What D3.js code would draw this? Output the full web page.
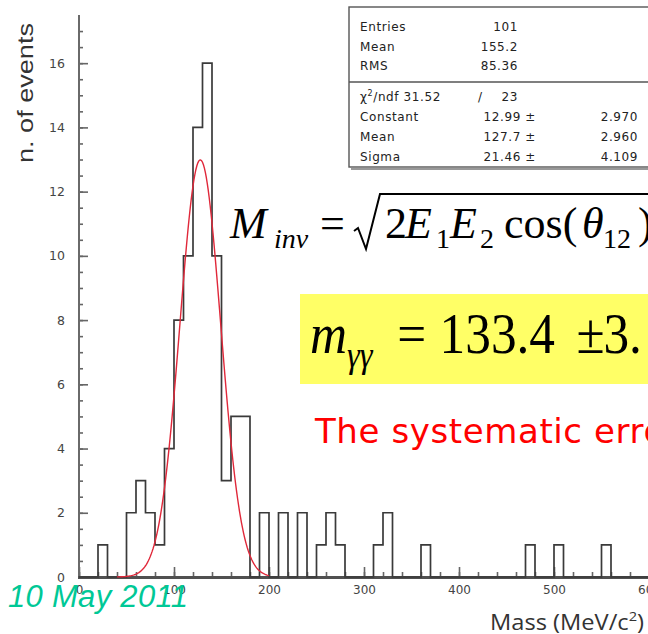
<!DOCTYPE html>
<html>
<head>
<meta charset="utf-8">
<script src="https://cdn.jsdelivr.net/npm/d3@7"></script>
<style>
  html, body { margin: 0; padding: 0; background: #fff; overflow: hidden; }
  svg { display: block; }
</style>
</head>
<body>
<svg id="chart" width="648" height="634"></svg>
<script>
// Invariant-mass histogram: 10 MeV bins from 0 to 600 MeV/c^2
const binStart = 0;
const binWidth = 10;
const counts = [
  0, 0, 1, 0, 0, 2, 3, 2, 1, 4,
  8, 10, 14, 16, 10, 3, 5, 5, 0, 2,
  0, 2, 0, 2, 0, 1, 2, 1, 0, 0,
  0, 1, 2, 0, 0, 0, 1, 0, 0, 0,
  0, 0, 0, 0, 0, 0, 0, 1, 0, 0,
  1, 0, 0, 0, 0, 1, 0, 0, 0, 0
];

// Gaussian fit parameters
const fitConstant = 12.99;
const fitMean = 127.7;
const fitSigma = 21.46;
const fitRange = [40, 200];

// Axis ticks
const xMajorTicks = [0, 100, 200, 300, 400, 500, 600];
const xMinorTicks = d3.range(0, 601, 20);
const yMajorTicks = [0, 2, 4, 6, 8, 10, 12, 14, 16];
const yMinorTicks = d3.range(0, 17.5, 0.5);

// Statistics box rows
const statsTop = [["Entries", "101"], ["Mean", "155.2"], ["RMS", "85.36"]];
const statsFit = [["Constant", "12.99 \u00b1", "2.970"], ["Mean", "127.7 \u00b1", "2.960"], ["Sigma", "21.46 \u00b1", "4.109"]];
const chi2 = "31.52", ndf = "23";

const svg = d3.select("#chart");

const x = d3.scaleLinear().domain([0, 600]).range([79, 649]);
const y = d3.scaleLinear().domain([0, 17.5]).range([577, 15]);

// ---- axes ----
const tickColor = "#666";
const yMinor = svg.append("g").attr("transform", `translate(${x(0)},0)`)
  .call(d3.axisLeft(y).tickValues(yMinorTicks).tickSize(-4).tickFormat(""));
const yMajor = svg.append("g").attr("transform", `translate(${x(0)},0)`)
  .call(d3.axisLeft(y).tickValues(yMajorTicks).tickSizeInner(-9).tickSizeOuter(0).tickPadding(14));
const xMinor = svg.append("g").attr("transform", `translate(0,${y(0)})`)
  .call(d3.axisBottom(x).tickValues(xMinorTicks).tickSize(-5).tickFormat(""));
const xMajor = svg.append("g").attr("transform", `translate(0,${y(0)})`)
  .call(d3.axisBottom(x).tickValues(xMajorTicks).tickSizeInner(-10).tickSizeOuter(0).tickPadding(8));

[yMinor, yMajor, xMinor, xMajor].forEach(g => {
  g.select(".domain").remove();
  g.selectAll(".tick line").attr("stroke", tickColor).attr("stroke-width", 1.6);
  g.selectAll(".tick text")
    .attr("font-family", "DejaVu Sans, sans-serif")
    .attr("fill", "#444");
});
yMajor.selectAll(".tick text").attr("font-size", 12.5);
xMajor.selectAll(".tick text").attr("font-size", 12);

// axis lines
svg.append("line")
  .attr("x1", x(0)).attr("x2", x(0)).attr("y1", y(17.5)).attr("y2", y(0))
  .attr("stroke", "#6a6a6a").attr("stroke-width", 2);
svg.append("line")
  .attr("x1", x(0) - 1).attr("x2", x(600)).attr("y1", y(0) + 0.5).attr("y2", y(0) + 0.5)
  .attr("stroke", "#505050").attr("stroke-width", 3);

// ---- histogram outline ----
const steps = counts.map((c, i) => [binStart + i * binWidth, c]);
steps.push([binStart + counts.length * binWidth, counts[counts.length - 1]]);
const histLine = d3.line()
  .x(d => x(d[0])).y(d => y(d[1]))
  .curve(d3.curveStepAfter);
svg.append("path")
  .attr("d", histLine(steps))
  .attr("fill", "none")
  .attr("stroke", "#3a3a3a")
  .attr("stroke-width", 1.7);

// ---- gaussian fit ----
const gauss = m => fitConstant * Math.exp(-0.5 * Math.pow((m - fitMean) / fitSigma, 2));
const fitPts = d3.range(fitRange[0], fitRange[1] + 0.01, 1).map(m => [m, gauss(m)]);
svg.append("path")
  .attr("d", d3.line().x(d => x(d[0])).y(d => y(d[1])).curve(d3.curveLinear)(fitPts))
  .attr("fill", "none")
  .attr("stroke", "#e0283a")
  .attr("stroke-width", 1.4);

// ---- statistics box ----
const box = svg.append("g");
box.append("line").attr("x1", 351).attr("x2", 660).attr("y1", 169).attr("y2", 169)
  .attr("stroke", "#777").attr("stroke-width", 1.5);
box.append("rect").attr("x", 349).attr("y", 7).attr("width", 320).attr("height", 160)
  .attr("fill", "#fff").attr("stroke", "#555").attr("stroke-width", 1.4);
box.append("line").attr("x1", 349).attr("x2", 660).attr("y1", 82).attr("y2", 82)
  .attr("stroke", "#555").attr("stroke-width", 1.4);

const statFont = t => t.attr("font-family", "DejaVu Sans, sans-serif")
  .attr("font-size", 12).attr("letter-spacing", 0.6).attr("fill", "#222");

statsTop.forEach((r, i) => {
  const yy = 31 + i * 19.5;
  box.append("text").attr("x", 360).attr("y", yy).text(r[0]).call(statFont);
  box.append("text").attr("x", 518).attr("y", yy).attr("text-anchor", "end").text(r[1]).call(statFont);
});
const chiRow = box.append("text").attr("x", 360).attr("y", 101).call(statFont);
chiRow.append("tspan").text("\u03c7");
chiRow.append("tspan").attr("font-size", 8).attr("dy", -5).text("2");
chiRow.append("tspan").attr("dy", 5).text("/ndf " + chi2);
box.append("text").attr("x", 478).attr("y", 101).text("/").call(statFont);
box.append("text").attr("x", 518).attr("y", 101).attr("text-anchor", "end").text(ndf).call(statFont);
statsFit.forEach((r, i) => {
  const yy = 121 + i * 20;
  box.append("text").attr("x", 360).attr("y", yy).text(r[0]).call(statFont);
  box.append("text").attr("x", 536).attr("y", yy).attr("text-anchor", "end").text(r[1]).call(statFont);
  box.append("text").attr("x", 638).attr("y", yy).attr("text-anchor", "end").text(r[2]).call(statFont);
});

// ---- axis titles ----
svg.append("text")
  .attr("transform", "translate(33,163) rotate(-90)")
  .attr("text-anchor", "start")
  .attr("font-family", "Liberation Sans, Arial, sans-serif")
  .attr("font-size", 22)
  .attr("textLength", 140)
  .attr("lengthAdjust", "spacingAndGlyphs")
  .attr("fill", "#333")
  .text("n. of events");

const xTitle = svg.append("text")
  .attr("x", 490).attr("y", 630)
  .attr("font-family", "Open Sans, sans-serif")
  .attr("font-size", 21)
  .attr("textLength", 154)
  .attr("lengthAdjust", "spacingAndGlyphs")
  .attr("fill", "#333");
xTitle.append("tspan").text("Mass (MeV/c");
xTitle.append("tspan").attr("font-size", 13).attr("dy", -9).text("2");
xTitle.append("tspan").attr("dy", 9).text(")");

// ---- invariant mass formula ----
const serif = "Liberation Serif, Times New Roman, serif";
const fm = svg.append("g")
  .attr("font-family", serif).attr("fill", "#000");
const piece = (txt, px, py, size, italic) => fm.append("text")
  .attr("x", px).attr("y", py).attr("font-size", size)
  .attr("font-style", italic ? "italic" : "normal").text(txt);
piece("M", 230, 238, 44, true);
piece("inv", 274, 248, 28, true);
piece("=", 320, 238, 44, false);
svg.append("path")
  .attr("d", "M354,231 L358,228 L366,249 L380,194 L660,194")
  .attr("fill", "none").attr("stroke", "#000").attr("stroke-width", 2).attr("stroke-linejoin", "miter");
piece("2", 385, 238, 44, false);
piece("E", 405, 238, 44, true);
piece("1", 436, 248, 28, false);
piece("E", 450, 238, 44, true);
piece("2", 480, 248, 28, false);
piece("cos(", 504, 238, 44, false);
piece("\u03b8", 582, 238, 44, true);
piece("12", 603, 248, 28, false);
piece(")", 638, 238, 44, false);

// ---- highlighted result ----
svg.append("rect").attr("x", 300).attr("y", 294).attr("width", 360).attr("height", 90)
  .attr("fill", "#ffff66");
const res = svg.append("g")
  .attr("transform", "translate(310,353) scale(0.9,1)")
  .attr("font-family", serif).attr("fill", "#000");
res.append("text").attr("x", 0).attr("y", 0).attr("font-size", 57).attr("font-style", "italic").text("m");
res.append("text").attr("x", 41).attr("y", 14).attr("font-size", 36).attr("font-style", "italic").text("\u03b3\u03b3");
res.append("text").attr("x", 97).attr("y", 0).attr("font-size", 57).text("=");
res.append("text").attr("x", 144).attr("y", 0).attr("font-size", 57).text("133.4");
res.append("text").attr("x", 296).attr("y", 0).attr("font-size", 57).text("\u00b1");
res.append("text").attr("x", 326).attr("y", 0).attr("font-size", 57).text("3.");

// ---- note ----
svg.append("text").attr("x", 315).attr("y", 443)
  .attr("font-family", "DejaVu Sans, sans-serif").attr("font-size", 34)
  .attr("letter-spacing", 0.6).attr("fill", "#ff0000")
  .text("The systematic error");

// ---- date ----
svg.append("text").attr("x", 8).attr("y", 607)
  .attr("font-family", "Liberation Sans, Arial, sans-serif").attr("font-style", "italic")
  .attr("font-size", 31).attr("letter-spacing", 0.3).attr("fill", "#00c896")
  .text("10 May 2011");
</script>
</body>
</html>
